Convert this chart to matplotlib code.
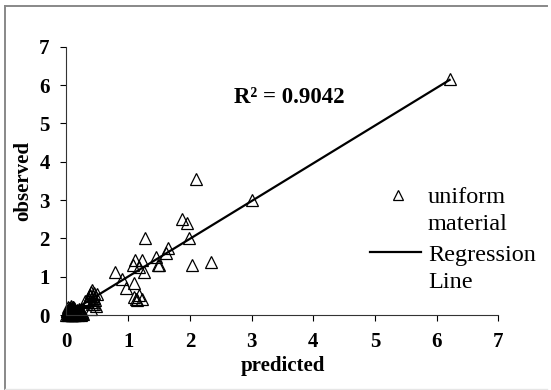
import numpy as np
import matplotlib
matplotlib.use("Agg")
import matplotlib.pyplot as plt
from matplotlib.lines import Line2D

# observed vs predicted values
predicted = [6.21, 3.01, 2.10, 1.88, 1.96, 1.98, 2.04, 2.35, 1.27, 1.64, 1.61,
             1.46, 1.48, 1.50, 1.11, 1.08, 1.22, 1.17, 1.25, 0.79, 0.90, 0.96,
             1.09, 1.09, 1.13, 1.18, 1.22, 1.14,
             0.42, 0.40, 0.38, 0.45, 0.50, 0.42, 0.45, 0.48, 0.40, 0.35, 0.43,
             0.30, 0.36, 0.44, 0.39, 0.33, 0.47, 0.41,
             0.05, 0.08, 0.10, 0.03, 0.12, 0.15, 0.07, 0.02, 0.18, 0.20, 0.22,
             0.10, 0.06, 0.13, 0.04, 0.16, 0.09, 0.01, 0.11, 0.25, 0.14, 0.08,
             0.00, 0.03, 0.06, 0.09, 0.12, 0.15, 0.18, 0.21, 0.24, 0.05, 0.11,
             0.02, 0.07, 0.13, 0.17, 0.19, 0.23, 0.04, 0.10, 0.14, 0.08, 0.01,
             0.06, 0.12, 0.16, 0.20, 0.27, 0.03, 0.09, 0.15, 0.05, 0.10, 0.07,
             0.13, 0.02, 0.18, 0.22, 0.26, 0.11, 0.04, 0.08, 0.14]
observed = [6.17, 3.00, 3.55, 2.50, 2.41, 2.00, 1.30, 1.39, 2.00, 1.74, 1.61,
            1.52, 1.30, 1.30, 1.43, 1.30, 1.43, 1.26, 1.13, 1.13, 0.93, 0.72,
            0.83, 0.48, 0.43, 0.52, 0.43, 0.40,
            0.65, 0.60, 0.50, 0.45, 0.55, 0.35, 0.30, 0.25, 0.15, 0.40, 0.50,
            0.38, 0.42, 0.58, 0.52, 0.33, 0.40, 0.28,
            0.05, 0.12, 0.20, 0.02, 0.10, 0.08, 0.25, 0.00, 0.05, 0.10, 0.07,
            0.02, 0.15, 0.18, 0.08, 0.03, 0.00, 0.10, 0.22, 0.05, 0.12, 0.06,
            0.00, 0.05, 0.03, 0.00, 0.04, 0.02, 0.00, 0.03, 0.01, 0.09, 0.14,
            0.07, 0.11, 0.16, 0.13, 0.04, 0.09, 0.17, 0.06, 0.01, 0.19, 0.12,
            0.08, 0.00, 0.06, 0.15, 0.04, 0.21, 0.01, 0.11, 0.18, 0.03, 0.13,
            0.07, 0.10, 0.02, 0.06, 0.08, 0.16, 0.04, 0.00, 0.09]

# regression line as drawn on the chart
slope = 0.985
intercept = 0.02
r_squared = 0.9042

plt.rcParams['font.family'] = ['Liberation Serif', 'DejaVu Serif']

fig = plt.figure(figsize=(5.51, 3.90), dpi=100)
ax = fig.add_axes([0.1205, 0.192, 0.784, 0.688])

line_x = np.array([min(predicted), max(predicted)])
ax.plot(predicted, observed, linestyle='none', marker='^', markersize=9,
        markerfacecolor='none', markeredgecolor='black', markeredgewidth=0.9,
        clip_on=False)
ax.plot(line_x, slope * line_x + intercept, color='black', linewidth=1.6)

ax.set_xlim(0, 7)
ax.set_ylim(0, 7)
ax.set_xticks(range(8))
ax.set_yticks(range(8))
ax.set_xticklabels([str(i) for i in range(8)], fontweight='bold')
ax.set_yticklabels([str(i) for i in range(8)], fontweight='bold')
for side in ['top', 'right']:
    ax.spines[side].set_visible(False)
for side in ['left', 'bottom']:
    ax.spines[side].set_linewidth(0.8)
    ax.spines[side].set_color('#333333')
ax.tick_params(direction='out', length=4, width=0.8, labelsize=15, pad=8)

ax.set_xlabel('predicted', fontsize=15, fontweight='bold', labelpad=3)
ax.set_ylabel('observed', fontsize=15, fontweight='bold', labelpad=4)

ax.text(2.71, 5.69, f'R\u00b2 = {r_squared:.4f}', fontsize=16.5,
        fontweight='bold', va='center')

# legend, laid out as in the original (handle level with first text line)
fig.add_artist(Line2D([398 / 551], [1 - 195 / 390], transform=fig.transFigure,
                      marker='^', markersize=6.5, markerfacecolor='none',
                      markeredgecolor='black', markeredgewidth=0.9, linestyle='none'))
fig.add_artist(Line2D([370 / 551, 421 / 551], [1 - 252 / 390, 1 - 252 / 390],
                      transform=fig.transFigure, color='black', linewidth=1.6))
for label, ypix in [('uniform', 195), ('material', 222),
                    ('Regression', 253), ('Line', 280)]:
    fig.text(428 / 551, 1 - ypix / 390, label, fontsize=17.5,
             va='center_baseline', ha='left')

# outer picture frame
fig.add_artist(Line2D([0.009, 0.009], [0.003, 0.985], transform=fig.transFigure,
                      color='#888888', linewidth=1.4))
fig.add_artist(Line2D([0.009, 0.993], [0.985, 0.985], transform=fig.transFigure,
                      color='#888888', linewidth=1.4))
fig.add_artist(Line2D([0.009, 0.993], [0.003, 0.003], transform=fig.transFigure,
                      color='#e6e6e6', linewidth=1.0))

fig.savefig('out.png', dpi=100)
